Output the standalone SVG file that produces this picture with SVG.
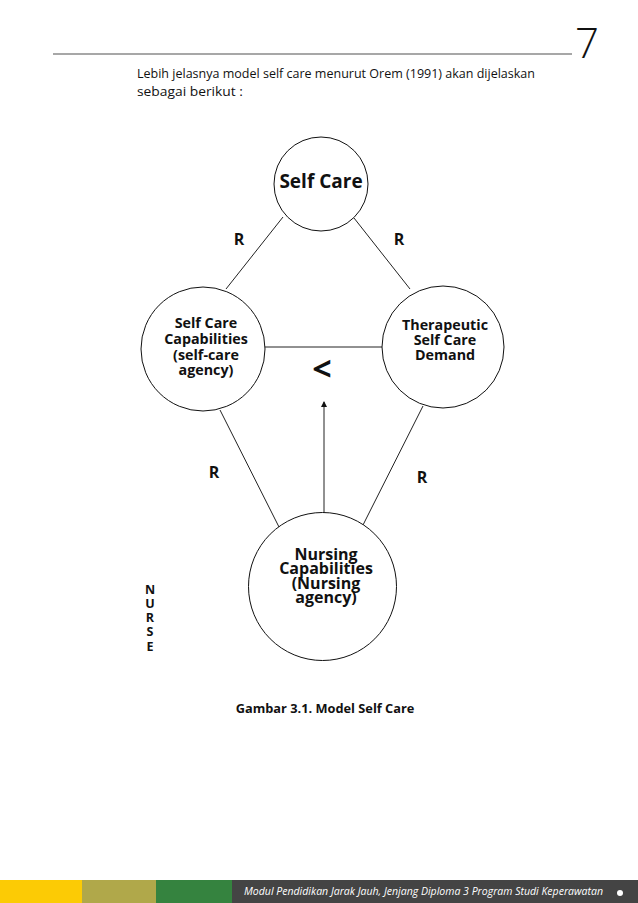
<svg xmlns="http://www.w3.org/2000/svg" width="638" height="903" viewBox="0 0 638 903">
<style>
.node{fill:#fff;stroke:#111;stroke-width:1}
.edge{stroke:#222;stroke-width:1;fill:none}
.b{font-family:"Open Sans","Liberation Sans",sans-serif;font-weight:bold;fill:#111;text-anchor:middle}
.r{font-family:"Open Sans","Liberation Sans",sans-serif;fill:#111}
</style>
<defs>
<marker id="ah" markerWidth="6" markerHeight="8" refX="5" refY="4" orient="auto" markerUnits="userSpaceOnUse">
<path d="M0,1 L6,4 L0,7 Z" fill="#111"/>
</marker>
</defs>
<rect width="638" height="903" fill="#fff"/>
<line x1="53" y1="54" x2="572" y2="54" stroke="#8a8a8a" stroke-width="1.5"/>
<text x="575" y="58" class="r" font-size="42" font-weight="300">7</text>
<text x="137" y="78" class="r" font-size="12" textLength="398" lengthAdjust="spacingAndGlyphs">Lebih jelasnya model self care menurut Orem (1991) akan dijelaskan</text>
<text x="137" y="96" class="r" font-size="12" textLength="106" lengthAdjust="spacingAndGlyphs">sebagai berikut :</text>
<g id="connectors">
<line class="edge" x1="283" y1="217" x2="226" y2="289"/>
<line class="edge" x1="354" y1="218" x2="410" y2="289"/>
<line class="edge" x1="265" y1="347" x2="382" y2="347"/>
<line class="edge" x1="220" y1="410" x2="279" y2="527"/>
<line class="edge" x1="423" y1="406" x2="363" y2="525"/>
<line class="edge" x1="324" y1="513" x2="324" y2="402" marker-end="url(#ah)"/>
</g>
<g id="self-care">
<circle class="node" cx="321" cy="184" r="47"/>
<text x="321" y="188" class="b" font-size="19">Self Care</text>
</g>
<g id="self-care-capabilities">
<circle class="node" cx="203" cy="349" r="62"/>
<text class="b" font-size="14.3"><tspan x="206" y="328">Self Care</tspan><tspan x="206" y="344">Capabilities</tspan><tspan x="206" y="360">(self-care</tspan><tspan x="206" y="375">agency)</tspan></text>
</g>
<g id="therapeutic">
<circle class="node" cx="443" cy="347" r="61"/>
<text class="b" font-size="14.3"><tspan x="445" y="330">Therapeutic</tspan><tspan x="445" y="345">Self Care</tspan><tspan x="445" y="360">Demand</tspan></text>
</g>
<g id="nursing">
<circle class="node" cx="322.5" cy="586.5" r="74"/>
<text class="b" font-size="16"><tspan x="326" y="560">Nursing</tspan><tspan x="326" y="574">Capabilities</tspan><tspan x="326" y="589">(Nursing</tspan><tspan x="326" y="603">agency)</tspan></text>
</g>
<g id="labels">
<text x="239" y="245" class="b" font-size="16">R</text>
<text x="399" y="245" class="b" font-size="16">R</text>
<text x="214" y="478" class="b" font-size="16">R</text>
<text x="422" y="483" class="b" font-size="16">R</text>
<text x="322" y="381" class="b" font-size="34">&lt;</text>
<text class="b" font-size="12.5"><tspan x="150" y="594">N</tspan><tspan x="150" y="608">U</tspan><tspan x="150" y="622">R</tspan><tspan x="150" y="636">S</tspan><tspan x="150" y="651">E</tspan></text>
<text x="325" y="713" class="b" font-size="12.8">Gambar 3.1. Model Self Care</text>
</g>
<g id="footer">
<rect x="0" y="880" width="82" height="23" fill="#fccb05"/>
<rect x="82" y="880" width="74" height="23" fill="#b0a84a"/>
<rect x="156" y="880" width="76" height="23" fill="#35833f"/>
<rect x="232" y="880" width="406" height="23" fill="#444"/>
<text x="244" y="895" font-family="'Open Sans','Liberation Sans',sans-serif" font-style="italic" font-size="11" fill="#fff" textLength="359" lengthAdjust="spacingAndGlyphs">Modul Pendidikan Jarak Jauh, Jenjang Diploma 3 Program Studi Keperawatan</text>
<circle cx="620" cy="893" r="3" fill="#fff"/>
</g>
</svg>
